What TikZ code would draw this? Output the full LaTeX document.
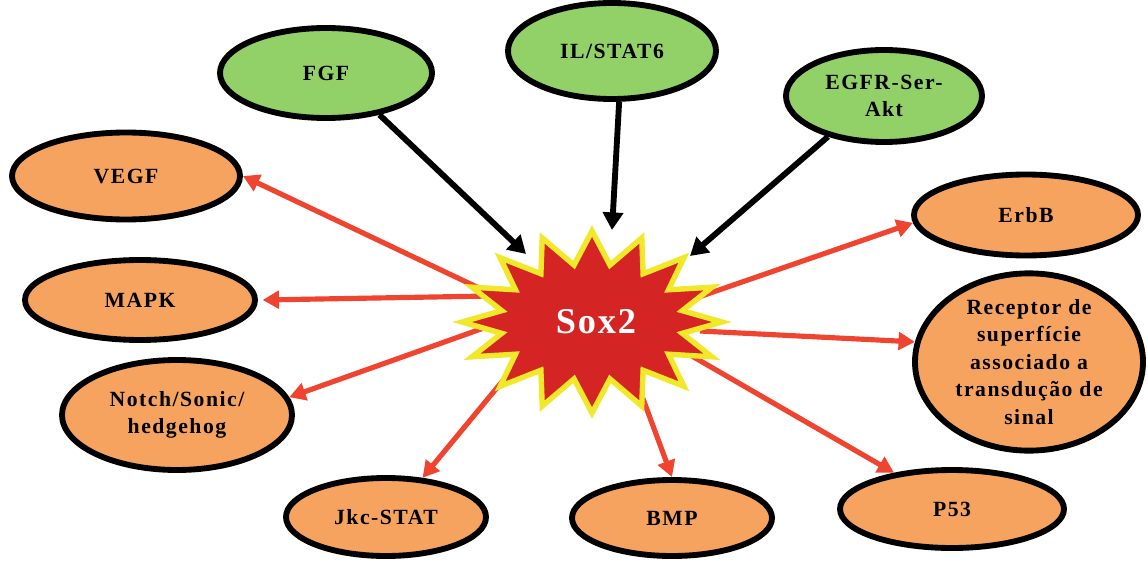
\documentclass[tikz,border=0pt]{standalone}
\usepackage{fontspec}
\setmainfont{Liberation Serif}
\usetikzlibrary{shapes.geometric,arrows.meta}
\definecolor{orangefill}{RGB}{245,163,95}
\definecolor{greenfill}{RGB}{146,208,104}
\definecolor{arrowred}{RGB}{238,68,48}
\definecolor{starred}{RGB}{212,36,36}
\definecolor{staryellow}{RGB}{240,232,40}
\tikzset{
  bubble/.style={ellipse, draw=black, line width=5pt, inner sep=0pt, align=center,
    font=\fontsize{18.5}{23.5}\selectfont\bfseries\addfontfeatures{LetterSpace=7}},
  outnode/.style={bubble, fill=orangefill},
  innode/.style={bubble, fill=greenfill},
  redarrow/.style={draw=arrowred, line width=4.4pt, -{Triangle[length=14pt,width=15pt]}},
  blackarrow/.style={draw=black, line width=5pt, -{Triangle[length=15pt,width=17pt]}},
}
\begin{document}
\begin{tikzpicture}[x=0.03cm,y=-0.03cm]
\path[use as bounding box] (0,0) rectangle (1148,564);
% nodes
\node[innode, minimum width=6.36cm, minimum height=2.7cm] (fgf) at (326,73) {FGF};
\node[innode, minimum width=6.24cm, minimum height=2.88cm] (il) at (612,51) {IL/STAT6};
\node[innode, minimum width=5.88cm, minimum height=2.76cm] (egfr) at (884,96) {EGFR-Ser-\\Akt};
\node[outnode, minimum width=6.84cm, minimum height=2.61cm] (vegf) at (126,176) {VEGF};
\node[outnode, minimum width=6.9cm, minimum height=2.4cm] (mapk) at (140,300) {MAPK};
\node[outnode, minimum width=6.9cm, minimum height=3.3cm] (notch) at (177,415) {Notch/Sonic/\\hedgehog};
\node[outnode, minimum width=6cm, minimum height=2.34cm] (jkc) at (386,517) {Jkc-STAT};
\node[outnode, minimum width=6cm, minimum height=2.28cm] (bmp) at (672,518) {BMP};
\node[outnode, minimum width=6.72cm, minimum height=2.34cm] (p53) at (952,509) {P53};
\node[outnode, minimum width=6.72cm, minimum height=2.43cm] (erbb) at (1026,215) {ErbB};
\node[outnode, minimum width=6.84cm, minimum height=5.1cm] (rec) at (1029,362)
  {Receptor de\\superfície\\associado a\\transdução de\\sinal};
% arrow tails (inside the star) and heads (at the star)
\coordinate (tvegf) at (500,298);
\coordinate (tmapk) at (490,296);
\coordinate (tnotch) at (495,324);
\coordinate (tjkc) at (510,372);
\coordinate (tbmp) at (636,380);
\coordinate (tp53) at (685,352);
\coordinate (trec) at (700,331);
\coordinate (terbb) at (690,300);
\coordinate (hfgf) at (526,254);
\coordinate (hil) at (612,230);
\coordinate (hegfr) at (690,256);
% red arrows
\draw[redarrow] (tvegf) -- (vegf.east);
\draw[redarrow] (tmapk) -- ([xshift=4pt]mapk.east);
\draw[redarrow] (tnotch) -- (notch.9);
\draw[redarrow] (tjkc) -- (jkc.47);
\draw[redarrow] (tbmp) -- (bmp.north);
\draw[redarrow] (tp53) -- (p53.148);
\draw[redarrow] (trec) -- (rec.170);
\draw[redarrow] (terbb) -- (erbb.184);
% star
\draw[fill=starred, draw=staryellow, line width=4.6pt, line join=miter]
  (722,322) \foreach \i in {1,...,31} {
    -- ({592+cos(\i*11.25)*(isodd(\i) ? 92 : 130)}, {322+sin(\i*11.25)*(isodd(\i) ? 58 : 91)})
  } -- cycle;
\node[text=white, font=\fontsize{31}{36}\selectfont\bfseries\addfontfeatures{LetterSpace=5}] (sox) at (596,322) {Sox2};
% black arrows
\draw[blackarrow] (fgf.-38) -- (hfgf);
\draw[blackarrow] (il.-82) -- (hil);
\draw[blackarrow] (egfr.216) -- (hegfr);
\end{tikzpicture}
\end{document}
